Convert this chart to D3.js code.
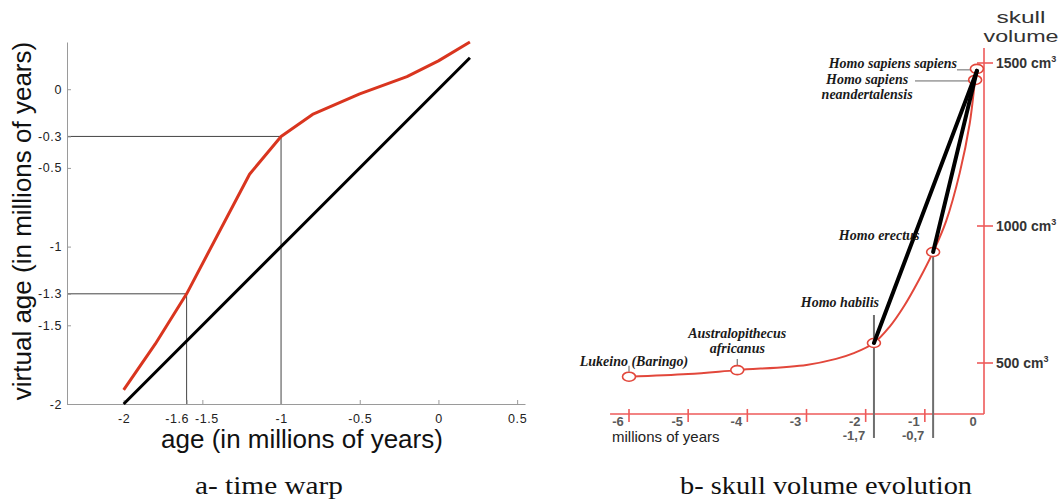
<!DOCTYPE html>
<html>
<head>
<meta charset="utf-8">
<script src="https://cdn.jsdelivr.net/npm/d3@7"></script>
<style>
  html, body { margin: 0; padding: 0; background: #fff; }
  svg { display: block; }
</style>
</head>
<body>
<svg id="chart"></svg>
<script>
// ---- a- time warp ----
const warpAge = [-2, -1.8, -1.6, -1.2, -1, -0.8, -0.5, -0.2, 0, 0.2];
const warpVirtual = [-1.91, -1.62, -1.3, -0.54, -0.3, -0.16, -0.03, 0.08, 0.18, 0.3];
const identityAge = [-2, 0.2];
const guideAge = [-1.6, -1];
const guideVirtual = [-1.3, -0.3];
const ageTicks = [-2, -1.6, -1.5, -1, -0.5, 0, 0.5];
const virtualTicks = [0, -0.3, -0.5, -1, -1.3, -1.5, -2];

// ---- b- skull volume evolution ----
const species = ['Lukeino (Baringo)', 'Australopithecus africanus', 'Homo habilis', 'Homo erectus', 'Homo sapiens neandertalensis', 'Homo sapiens sapiens'];
const speciesMya = [-6, -4.17, -1.86, -0.86, -0.15, -0.12];
const speciesVolume = [450, 474, 573, 905, 1448, 1482];
const curveMya = [-6, -5, -4.17, -3, -2.5, -2.2, -1.86, -1.6, -1.35, -1.1, -0.86, -0.64, -0.41, -0.24, -0.15, -0.12];
const curveVolume = [450, 460, 474, 493, 515, 536, 573, 631, 708, 803, 905, 1015, 1163, 1316, 1448, 1482];
const myaTicks = [-6, -5, -4, -3, -2, -1];
const myaLabels = ['-6', '-5', '-4', '-3', '-2', '-1', '0'];
const volumeTicks = [500, 1000, 1500];
const markedMya = [-1.86, -0.86];
const markedLabels = ['-1,7', '-0,7'];

const W = 1062, H = 500;
const svg = d3.select('#chart').attr('width', W).attr('height', H);
svg.append('rect').attr('width', W).attr('height', H).attr('fill', '#fff');

const sans = 'Liberation Sans, Arial, Helvetica, sans-serif';
const serif = 'Liberation Serif, Times New Roman, serif';

// ================= left panel =================
const x = d3.scaleLinear().domain([-2.36, 0.55]).range([67, 525]);
const y = d3.scaleLinear().domain([-2, 0.3]).range([404, 42]);
const left = svg.append('g');

// guide lines
guideAge.forEach((a, i) => {
    left.append('path')
        .attr('d', `M${x.range()[0]},${y(guideVirtual[i])}H${x(a)}V${y.range()[0]}`)
        .attr('fill', 'none').attr('stroke', '#444').attr('stroke-width', 1);
});

// axes
const xAxis = left.append('g').attr('transform', `translate(0,${y.range()[0]})`)
    .call(d3.axisBottom(x).tickValues(ageTicks).tickSize(-4).tickSizeOuter(0).tickPadding(10).tickFormat(d => String(d)));
const yAxis = left.append('g').attr('transform', `translate(${x.range()[0]},0)`)
    .call(d3.axisLeft(y).tickValues(virtualTicks).tickSize(-4).tickSizeOuter(0).tickPadding(5).tickFormat(d => String(d)));
[xAxis, yAxis].forEach(g => {
    g.select('.domain').attr('stroke', '#9a9a9a');
    g.selectAll('.tick line').attr('stroke', '#9a9a9a');
    g.selectAll('.tick text').attr('fill', '#222').attr('font-family', sans)
        .attr('font-size', 12.5).attr('letter-spacing', '0.6px');
});
// -1.6 and -1.5 sit close together: nudge them apart like the original
xAxis.selectAll('.tick text').attr('dx', d => d === -1.6 ? -10 : d === -1.5 ? 4 : 0);

// lines
left.append('path')
    .datum(identityAge)
    .attr('fill', 'none').attr('stroke', '#000').attr('stroke-width', 3)
    .attr('d', d3.line().x(d => x(d)).y(d => y(d)));

left.append('path')
    .datum(warpAge.map((a, i) => [a, warpVirtual[i]]))
    .attr('fill', 'none').attr('stroke', '#d9351f').attr('stroke-width', 3)
    .attr('stroke-linejoin', 'round')
    .attr('d', d3.line().x(d => x(d[0])).y(d => y(d[1])));

// labels
left.append('text')
    .attr('x', 302).attr('y', 448).attr('text-anchor', 'middle')
    .attr('font-family', sans).attr('font-size', 26).attr('fill', '#111')
    .text('age (in millions of years)');
left.append('text')
    .attr('transform', 'rotate(-90)').attr('x', -221).attr('y', 31)
    .attr('text-anchor', 'middle')
    .attr('font-family', sans).attr('font-size', 26).attr('fill', '#111')
    .text('virtual age (in millions of years)');

svg.append('text')
    .attr('x', 195).attr('y', 494)
    .attr('font-family', serif).attr('font-size', 26).attr('fill', '#111')
    .attr('textLength', 148).attr('lengthAdjust', 'spacingAndGlyphs')
    .text('a- time warp');

// ================= right panel =================
const sx = d3.scaleLinear().domain([-6, 0]).range([629, 984]);
const sy = d3.scaleLinear().domain([500, 1000, 1500]).range([363, 226, 63]);
const right = svg.append('g');
const axisRed = '#ee5a5a';
const yBase = sy(314);

// axis lines
right.append('line')
    .attr('x1', sx(-6.32)).attr('x2', sx(0)).attr('y1', yBase).attr('y2', yBase)
    .attr('stroke', axisRed).attr('stroke-width', 1.6);
right.append('line')
    .attr('x1', sx(0)).attr('x2', sx(0)).attr('y1', sy(1546)).attr('y2', yBase)
    .attr('stroke', axisRed).attr('stroke-width', 1.6);

// x ticks
right.selectAll('.xt').data(myaTicks).enter().append('line')
    .attr('x1', d => sx(d)).attr('x2', d => sx(d))
    .attr('y1', yBase - 5).attr('y2', yBase + 8)
    .attr('stroke', axisRed).attr('stroke-width', 1.6);
right.selectAll('.xl').data(myaLabels).enter().append('text')
    .attr('x', (d, i) => sx(-6 + i) - 11).attr('y', yBase + 12)
    .attr('text-anchor', 'middle')
    .attr('font-family', sans).attr('font-weight', 'bold').attr('font-size', 13)
    .attr('fill', '#5a5a5a')
    .text(d => d);

// y ticks
right.selectAll('.yt').data(volumeTicks).enter().append('line')
    .attr('x1', sx(0) - 7).attr('x2', sx(0) + 9)
    .attr('y1', d => sy(d)).attr('y2', d => sy(d))
    .attr('stroke', axisRed).attr('stroke-width', 1.6);
const yl = right.selectAll('.yl').data(volumeTicks).enter().append('text')
    .attr('x', sx(0) + 12).attr('y', d => sy(d) + 5)
    .attr('font-family', sans).attr('font-weight', 'bold').attr('font-size', 14)
    .attr('fill', '#333');
yl.append('tspan').text(d => d + ' cm');
yl.append('tspan').attr('dy', -6).attr('font-size', 9).text('3');

right.append('text')
    .attr('x', 1021).attr('y', 23).attr('text-anchor', 'middle')
    .attr('font-family', sans).attr('font-size', 16).attr('fill', '#333')
    .attr('textLength', 49).attr('lengthAdjust', 'spacingAndGlyphs')
    .text('skull');
right.append('text')
    .attr('x', 1021).attr('y', 42).attr('text-anchor', 'middle')
    .attr('font-family', sans).attr('font-size', 16).attr('fill', '#333')
    .attr('textLength', 75).attr('lengthAdjust', 'spacingAndGlyphs')
    .text('volume');

right.append('text')
    .attr('x', 612).attr('y', 442)
    .attr('font-family', sans).attr('font-size', 15).attr('fill', '#222')
    .text('millions of years');

// drop lines for habilis and erectus
const dropTop = [-28, 0];
markedMya.forEach((m, i) => {
    const v = speciesVolume[speciesMya.indexOf(m)];
    right.append('line')
        .attr('x1', sx(m)).attr('x2', sx(m))
        .attr('y1', sy(v) + dropTop[i]).attr('y2', yBase + 24)
        .attr('stroke', '#6e6e6e').attr('stroke-width', 2);
    right.append('text')
        .attr('x', sx(m) - 20).attr('y', yBase + 26)
        .attr('text-anchor', 'middle')
        .attr('font-family', sans).attr('font-weight', 'bold').attr('font-size', 13)
        .attr('fill', '#5a5a5a')
        .text(markedLabels[i]);
});

// red curve
right.append('path')
    .datum(curveMya.map((m, i) => [m, curveVolume[i]]))
    .attr('fill', 'none').attr('stroke', '#e2473b').attr('stroke-width', 2)
    .attr('d', d3.line().x(d => sx(d[0])).y(d => sy(d[1])).curve(d3.curveCatmullRom.alpha(0.5)));

// small stems above the two earliest points
[0, 1].forEach(i => {
    right.append('line')
        .attr('x1', sx(speciesMya[i])).attr('x2', sx(speciesMya[i]))
        .attr('y1', sy(speciesVolume[i]) - 11).attr('y2', sy(speciesVolume[i]) - 5)
        .attr('stroke', '#777').attr('stroke-width', 1.2);
});

// leader lines for sapiens labels
right.append('line')
    .attr('x1', 957).attr('x2', sx(speciesMya[5]) - 6)
    .attr('y1', sy(speciesVolume[5]) + 1).attr('y2', sy(speciesVolume[5]) + 1)
    .attr('stroke', '#666').attr('stroke-width', 1);
right.append('line')
    .attr('x1', 915).attr('x2', sx(speciesMya[4]) - 5)
    .attr('y1', sy(speciesVolume[4]) + 1).attr('y2', sy(speciesVolume[4]) + 1)
    .attr('stroke', '#666').attr('stroke-width', 1);

// points
right.selectAll('.pt').data(speciesMya).enter().append('ellipse')
    .attr('cx', d => sx(d)).attr('cy', (d, i) => sy(speciesVolume[i]))
    .attr('rx', 6.5).attr('ry', 4.5)
    .attr('fill', (d, i) => i >= 4 ? 'none' : '#fff')
    .attr('stroke', '#e2473b').attr('stroke-width', 1.6);

// black links to modern humans
[2, 3].forEach(i => {
    right.append('line')
        .attr('x1', sx(speciesMya[i])).attr('y1', sy(speciesVolume[i]))
        .attr('x2', sx(speciesMya[5])).attr('y2', sy(speciesVolume[5]) + 2)
        .attr('stroke', '#000').attr('stroke-width', 4).attr('stroke-linecap', 'round');
});

// species labels (pixel offsets from their point)
const labelLines = [
    [['Lukeino (Baringo)', 5, -11]],
    [['Australopithecus', 0, -32], ['africanus', 0, -17]],
    [['Homo habilis', -34, -36]],
    [['Homo erectus', -54, -12]],
    [['Homo sapiens', -108, 4], ['neandertalensis', -108, 19]],
    [['Homo sapiens sapiens', -84, -1]]
];
labelLines.forEach((lines, i) => {
    lines.forEach(([t, dx, dy]) => {
        right.append('text')
            .attr('x', sx(speciesMya[i]) + dx).attr('y', sy(speciesVolume[i]) + dy)
            .attr('text-anchor', 'middle')
            .attr('font-family', serif).attr('font-weight', 'bold').attr('font-style', 'italic')
            .attr('font-size', 14).attr('fill', '#1a1a1a')
            .text(t);
    });
});

svg.append('text')
    .attr('x', 680).attr('y', 494)
    .attr('font-family', serif).attr('font-size', 26).attr('fill', '#111')
    .attr('textLength', 292).attr('lengthAdjust', 'spacingAndGlyphs')
    .text('b- skull volume evolution');
</script>
</body>
</html>
